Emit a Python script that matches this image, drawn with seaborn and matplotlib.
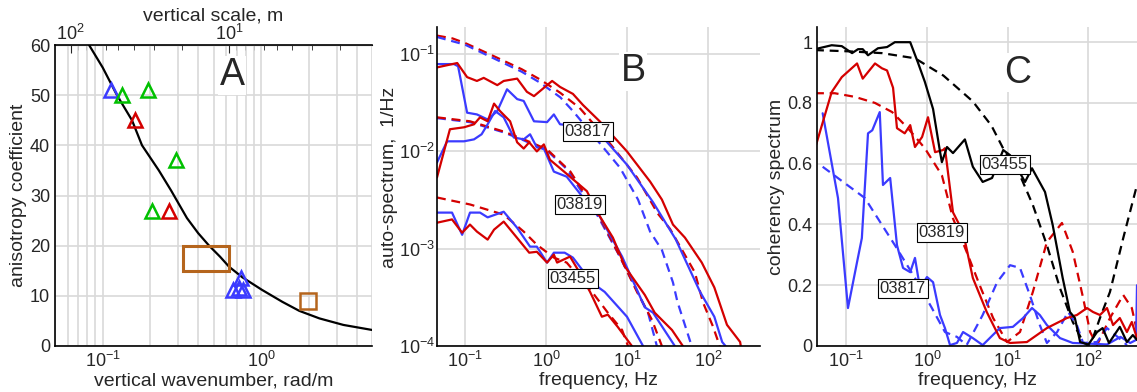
import numpy as np
import matplotlib
matplotlib.use("Agg")
import matplotlib.pyplot as plt
from matplotlib.patches import Rectangle
from matplotlib.ticker import (LogLocator, MultipleLocator, NullFormatter, FuncFormatter,
                               FixedLocator)
import seaborn as sns

##############################################################
# Panel A data: anisotropy coefficient vs vertical wavenumber
##############################################################
curve_k = [0.082, 0.1, 0.123, 0.153, 0.177, 0.226, 0.27, 0.34, 0.40, 0.469, 0.55, 0.627, 0.76, 1.01, 1.36, 1.74, 2.33, 3.3, 5.0]
curve_a = [60, 55.5, 50, 45, 40, 35, 31, 25.5, 22.5, 20, 17.8, 15.8, 13.7, 11.2, 8.8, 7.0, 5.5, 4.2, 3.2]
blue_k = [0.112, 0.66, 0.72, 0.77, 0.75]
blue_a = [51, 11.2, 11.5, 11.2, 13.5]
green_k = [0.132, 0.193, 0.29, 0.204]
green_a = [50, 51, 37, 27]
red_k = [0.159, 0.262]
red_a = [45, 27]
square_k = [1.96]
square_a = [9]
rect_k = [0.32, 0.63]
rect_a = [15, 20]
scale_major = [10, 100]
scale_minor = [2, 3, 4, 5, 6, 7, 8, 9, 20, 30, 40, 50, 60, 70, 80, 90]

##############################################################
# Panel B data: auto-spectra (f in Hz, S in 1/Hz)
##############################################################
f_817_red = [0.045, 0.08, 0.106, 0.14, 0.17, 0.25, 0.30, 0.44, 0.58, 0.71, 1.19, 1.49, 2.15, 2.86, 4.6, 10, 19.3, 27, 37, 52, 84, 120, 172, 250, 260]
s_817_red = [0.073, 0.081, 0.058, 0.053, 0.057, 0.048, 0.053, 0.056, 0.041, 0.037, 0.053, 0.046, 0.039, 0.030, 0.0204, 0.010, 0.0049, 0.0032, 0.00177, 0.0013, 0.00072, 0.0004, 0.000165, 0.00011, 0.00009]
f_817_blue = [0.045, 0.073, 0.082, 0.106, 0.14, 0.19, 0.25, 0.33, 0.44, 0.53, 0.71, 1.03, 1.25, 1.49, 2.0, 3.0, 5.06, 10, 21, 40, 80, 120, 150, 165]
s_817_blue = [0.079, 0.079, 0.075, 0.025, 0.024, 0.0213, 0.026, 0.0435, 0.0345, 0.033, 0.0204, 0.020, 0.024, 0.019, 0.0185, 0.0175, 0.0139, 0.0073, 0.0030, 0.00125, 0.00036, 0.0002, 0.00011, 0.0001]
f_817_red_mod = [0.045, 0.07, 0.1, 0.2, 0.5, 0.84, 1.5, 2.6, 5, 13.3, 24, 34, 48, 69, 87, 115, 140]
s_817_red_mod = [0.155, 0.145, 0.13, 0.1, 0.07, 0.055, 0.04, 0.028, 0.015, 0.0054, 0.0023, 0.0016, 0.00097, 0.00057, 0.00028, 0.00016, 0.0001]
f_817_blue_mod = [0.045, 0.1, 0.2, 0.5, 0.84, 1.5, 2.15, 4, 8.2, 13.7, 19.3, 27, 37, 42, 63]
s_817_blue_mod = [0.15, 0.125, 0.095, 0.066, 0.051, 0.036, 0.026, 0.014, 0.0068, 0.0032, 0.0015, 0.00097, 0.00045, 0.000285, 0.0001]

f_819_red = [0.045, 0.065, 0.097, 0.129, 0.153, 0.19, 0.228, 0.27, 0.36, 0.44, 0.53, 0.62, 0.77, 0.94, 1.12, 1.67, 3.2, 4.4, 6.7, 9.5, 16.6, 22, 36, 49]
s_819_red = [0.0054, 0.0169, 0.0177, 0.019, 0.0224, 0.0204, 0.031, 0.026, 0.0204, 0.0124, 0.0107, 0.0124, 0.010, 0.0118, 0.0082, 0.0062, 0.0039, 0.0023, 0.0013, 0.00065, 0.000335, 0.00022, 0.000146, 0.0001]
f_819_blue = [0.045, 0.06, 0.097, 0.129, 0.16, 0.19, 0.235, 0.30, 0.40, 0.53, 0.635, 0.77, 0.94, 1.25, 1.8, 3.0, 4.4, 8.7, 16.6, 21, 39]
s_819_blue = [0.0077, 0.0127, 0.0127, 0.0133, 0.015, 0.019, 0.026, 0.0224, 0.0139, 0.0133, 0.015, 0.011, 0.0107, 0.0062, 0.0055, 0.0032, 0.0023, 0.00083, 0.00025, 0.00022, 0.0001]
f_819_red_mod = [0.045, 0.115, 0.30, 0.53, 1.03, 2.0, 4.6, 8.5, 13.3, 20.4, 27]
s_819_red_mod = [0.0224, 0.0204, 0.016, 0.0133, 0.0105, 0.0062, 0.0021, 0.00078, 0.00036, 0.000185, 0.0001]
f_819_blue_mod = [0.045, 0.115, 0.30, 0.53, 1.03, 1.8, 4.4, 7.7, 18.2, 23.4]
s_819_blue_mod = [0.022, 0.020, 0.0157, 0.013, 0.0102, 0.0066, 0.00214, 0.00091, 0.00022, 0.0001]

f_455_red = [0.045, 0.069, 0.092, 0.115, 0.14, 0.19, 0.228, 0.30, 0.44, 0.62, 0.77, 1.03, 1.25, 1.37, 1.98, 2.5, 3.5, 4.9, 5.8, 7.7, 11.5]
s_455_red = [0.00185, 0.002, 0.00146, 0.00177, 0.0015, 0.00124, 0.00157, 0.0019, 0.00129, 0.00091, 0.00093, 0.00072, 0.00087, 0.00072, 0.00083, 0.0006, 0.00036, 0.0002, 0.00021, 0.000157, 0.0001]
f_455_blue = [0.045, 0.069, 0.092, 0.115, 0.153, 0.19, 0.30, 0.44, 0.635, 0.77, 1.03, 1.25, 1.7, 2.15, 3.7, 5.3, 10, 15.8]
s_455_blue = [0.00235, 0.00235, 0.00139, 0.00235, 0.00235, 0.0021, 0.0024, 0.00164, 0.00105, 0.00105, 0.00072, 0.00091, 0.00091, 0.00081, 0.000447, 0.00036, 0.0002, 0.0001]
f_455_red_mod = [0.045, 0.115, 0.30, 0.53, 0.77, 1.25, 1.8, 3.8, 5.8, 8.7, 10.3]
s_455_red_mod = [0.00336, 0.00285, 0.00224, 0.0015, 0.0011, 0.00081, 0.00072, 0.00035, 0.00022, 0.000146, 0.0001]

##############################################################
# Panel C data: coherency spectra
##############################################################
f_455_coh = [0.041, 0.066, 0.088, 0.118, 0.14, 0.16, 0.186, 0.247, 0.32, 0.40, 0.62, 0.77, 0.94, 1.19, 1.45, 1.53, 1.77, 2.1, 2.95, 3.7, 4.9, 6.4, 8.8, 10.7, 16.4, 20, 29, 36, 48, 59, 68, 79, 100, 128, 150, 180, 245, 300, 355, 400]
c_455_coh = [0.977, 0.99, 0.987, 0.964, 0.977, 0.977, 0.957, 0.98, 0.984, 1.0, 1.0, 0.934, 0.87, 0.78, 0.64, 0.605, 0.655, 0.635, 0.68, 0.59, 0.54, 0.553, 0.645, 0.628, 0.54, 0.585, 0.507, 0.40, 0.224, 0.112, 0.092, 0.013, 0.005, 0.046, 0.059, 0.01, 0.063, 0.013, 0.036, 0.02]
f_455_coh_mod = [0.041, 0.105, 0.277, 0.71, 1.6, 3.7, 6.3, 8.8, 14.2, 20.5, 30.6, 44.5, 64, 86, 100, 115, 139, 185, 270, 400]
c_455_coh_mod = [0.974, 0.97, 0.964, 0.947, 0.89, 0.805, 0.725, 0.65, 0.562, 0.464, 0.332, 0.19, 0.079, 0.013, 0.0, 0.03, 0.092, 0.178, 0.355, 0.53]
f_819_coh = [0.041, 0.066, 0.088, 0.136, 0.16, 0.227, 0.277, 0.32, 0.38, 0.425, 0.53, 0.62, 0.71, 0.87, 1.03, 1.26, 1.58, 1.67, 2.1, 2.8, 3.7, 5.5, 8.0, 10.7, 17.3, 30.6, 54, 72, 96, 114, 139, 170, 202, 245, 300, 345, 400]
c_819_coh = [0.65, 0.836, 0.885, 0.93, 0.88, 0.93, 0.914, 0.907, 0.85, 0.717, 0.70, 0.727, 0.655, 0.688, 0.753, 0.638, 0.645, 0.651, 0.44, 0.375, 0.224, 0.112, 0.026, 0.01, 0.013, 0.059, 0.092, 0.102, 0.125, 0.112, 0.102, 0.125, 0.069, 0.092, 0.046, 0.079, 0.026]
f_819_coh_mod = [0.041, 0.072, 0.128, 0.227, 0.37, 0.58, 0.94, 1.53, 2.1, 3.1, 4.5, 6.6, 9.8, 14.2, 20.5, 30.6, 47, 64, 86, 105, 128, 185, 270, 345, 410]
c_819_coh_mod = [0.832, 0.832, 0.82, 0.8, 0.77, 0.717, 0.651, 0.562, 0.42, 0.31, 0.2, 0.092, 0.013, 0.046, 0.178, 0.342, 0.405, 0.31, 0.158, 0.046, 0.003, 0.092, 0.168, 0.125, 0.036]
f_817_coh = [0.051, 0.079, 0.105, 0.136, 0.156, 0.186, 0.21, 0.26, 0.285, 0.35, 0.425, 0.505, 0.62, 0.71, 0.82, 1.0, 1.19, 1.45, 1.67, 1.93, 2.35, 2.8, 3.7, 4.9, 8.0, 11.6, 15.5, 20, 25, 30.6, 44.5, 64, 100, 170, 250, 330, 390, 400]
c_817_coh = [0.766, 0.487, 0.125, 0.276, 0.355, 0.70, 0.71, 0.77, 0.53, 0.553, 0.332, 0.257, 0.243, 0.29, 0.19, 0.227, 0.21, 0.102, 0.059, 0.003, 0.01, 0.046, 0.026, 0.003, 0.059, 0.063, 0.092, 0.125, 0.102, 0.069, 0.026, 0.01, 0.008, 0.005, 0.03, 0.01, 0.02, 0.2]
f_817_coh_mod = [0.051, 0.17, 0.40, 0.71, 1.15, 1.67, 2.35, 3.1, 4.9, 7.4, 10.7, 14.2, 18.8, 25, 30.6, 41, 56, 72, 86, 128, 170, 230, 300]
c_817_coh_mod = [0.59, 0.487, 0.332, 0.224, 0.125, 0.046, 0.03, 0.003, 0.102, 0.21, 0.266, 0.257, 0.168, 0.069, 0.01, 0.046, 0.112, 0.069, 0.01, 0.013, 0.059, 0.03, 0.003]

##############################################################
# Estilo
##############################################################
sns.set_style("white")
plt.rcParams['font.family'] = ['Liberation Sans', 'DejaVu Sans']
plt.rcParams['mathtext.fontset'] = 'custom'
plt.rcParams['mathtext.rm'] = 'Liberation Sans'
plt.rcParams['mathtext.it'] = 'Liberation Sans:italic'
plt.rcParams['mathtext.bf'] = 'Liberation Sans:bold'

RED = '#d40000'
BLUE = '#3b3bff'
GREEN = '#00c000'
BROWN = '#b5651d'
GRID = '#d9d9d9'
LW = 1.6
DASH = (0, (4, 2.6))

def draw(ax, x, y, color, dashed=False):
    sns.lineplot(x=x, y=y, ax=ax, color=color, lw=LW, sort=False, estimator=None,
                 linestyle=DASH if dashed else '-')

def markers(ax, x, y, color, m='^', size=10):
    sns.lineplot(x=x, y=y, ax=ax, sort=False, estimator=None, linestyle='none',
                 marker=m, markersize=size, markerfacecolor='none',
                 markeredgecolor=color, markeredgewidth=1.8, color=color)

def box(ax, x, y, txt):
    ax.text(x, y, txt, fontsize=12, ha='center', va='center', zorder=10,
            bbox=dict(fc='white', ec='black', lw=0.8, pad=1.5))

def letter(ax, x, y, txt):
    ax.text(x, y, txt, fontsize=27, ha='center', va='center', zorder=9,
            bbox=dict(fc='white', ec='none', pad=1))

def style(ax):
    ax.tick_params(which='both', direction='in', labelsize=13)
    ax.tick_params(which='major', length=6, width=1)
    ax.tick_params(which='minor', length=3.5, width=0.8)
    ax.set_axisbelow(True)
    for s in ['left', 'bottom']:
        ax.spines[s].set_color('black')
        ax.spines[s].set_linewidth(1.2)
    ax.spines['right'].set_visible(False)

fig = plt.figure(figsize=(11.37, 3.92), dpi=100)
axA = fig.add_axes([55/1137, 46/392, 317/1137, 301/392])
axB = fig.add_axes([437/1137, 46/392, 323/1137, 319/392])
axC = fig.add_axes([817/1137, 46/392, 320/1137, 319/392])

##############################################################
# Panel A
##############################################################
axA.set_xscale('log')
draw(axA, curve_k, curve_a, 'black')
markers(axA, blue_k, blue_a, BLUE)
markers(axA, green_k, green_a, GREEN)
markers(axA, red_k, red_a, RED)
markers(axA, square_k, square_a, BROWN, m='s', size=11)
axA.add_patch(Rectangle((rect_k[0], rect_a[0]), rect_k[1] - rect_k[0], rect_a[1] - rect_a[0],
                        fill=False, ec=BROWN, lw=2.2, zorder=3))
axA.set_xlim(0.05, 5)
axA.set_ylim(0, 60)
axA.yaxis.set_major_locator(MultipleLocator(10))
axA.yaxis.set_minor_locator(MultipleLocator(2))
axA.xaxis.set_minor_locator(LogLocator(subs=np.arange(2, 10)))
axA.xaxis.set_minor_formatter(NullFormatter())
axA.grid(True, which='major', color=GRID, lw=1.2)
axA.grid(True, which='minor', axis='x', color=GRID, lw=1.2)
style(axA)
axA.spines['top'].set_color('black')
axA.spines['top'].set_linewidth(1.2)
axA.set_xlabel('vertical wavenumber, rad/m', fontsize=14, labelpad=1)
axA.set_ylabel('anisotropy coefficient', fontsize=14)
axA.yaxis.set_label_coords(-0.088, 0.5)
letter(axA, 0.656, 54, 'A')

def k2l(k):
    k = np.asarray(k, dtype=float)
    with np.errstate(divide='ignore'):
        return 2 * np.pi / np.where(k == 0, 1e-12, k)

sec = axA.secondary_xaxis('top', functions=(k2l, k2l))
sec.xaxis.set_major_locator(FixedLocator(scale_major))
sec.xaxis.set_minor_locator(FixedLocator(scale_minor))
sec.xaxis.set_minor_formatter(NullFormatter())
sec.tick_params(which='both', direction='in', labelsize=13, pad=1)
sec.tick_params(which='major', length=6)
sec.tick_params(which='minor', length=3.5)
sec.set_xlabel('vertical scale, m', fontsize=14, labelpad=2)

##############################################################
# Panel B
##############################################################
axB.set_xscale('log')
axB.set_yscale('log')
draw(axB, f_817_red_mod, s_817_red_mod, RED, True)
draw(axB, f_817_blue_mod, s_817_blue_mod, BLUE, True)
draw(axB, f_817_blue, s_817_blue, BLUE)
draw(axB, f_817_red, s_817_red, RED)
draw(axB, f_819_blue_mod, s_819_blue_mod, BLUE, True)
draw(axB, f_819_red_mod, s_819_red_mod, RED, True)
draw(axB, f_819_blue, s_819_blue, BLUE)
draw(axB, f_819_red, s_819_red, RED)
draw(axB, f_455_red_mod, s_455_red_mod, RED, True)
draw(axB, f_455_blue, s_455_blue, BLUE)
draw(axB, f_455_red, s_455_red, RED)
axB.set_xlim(0.045, 440)
axB.set_ylim(1e-4, 0.19)
axB.xaxis.set_minor_locator(LogLocator(subs=np.arange(2, 10), numticks=20))
axB.yaxis.set_minor_locator(LogLocator(subs=np.arange(2, 10), numticks=20))
axB.xaxis.set_minor_formatter(NullFormatter())
axB.yaxis.set_minor_formatter(NullFormatter())
axB.grid(True, which='major', color=GRID, lw=1.2)
style(axB)
axB.tick_params(axis='y', which='both', pad=1.5)
axB.spines['top'].set_visible(False)
axB.set_xlabel('frequency, Hz', fontsize=14, labelpad=1)
axB.set_ylabel('auto-spectrum,  1/Hz', fontsize=14)
axB.yaxis.set_label_coords(-0.12, 0.53)
box(axB, 3.3, 0.016, '03817')
box(axB, 2.63, 0.00285, '03819')
box(axB, 2.15, 0.00049, '03455')
letter(axB, 11.9, 0.067, 'B')

##############################################################
# Panel C
##############################################################
axC.set_xscale('log')
draw(axC, f_455_coh_mod, c_455_coh_mod, 'black', True)
draw(axC, f_819_coh_mod, c_819_coh_mod, RED, True)
draw(axC, f_817_coh_mod, c_817_coh_mod, BLUE, True)
draw(axC, f_817_coh, c_817_coh, BLUE)
draw(axC, f_819_coh, c_819_coh, RED)
draw(axC, f_455_coh, c_455_coh, 'black')
axC.set_xlim(0.0434, 400)
axC.set_ylim(0, 1.05)
axC.yaxis.set_major_locator(MultipleLocator(0.2))
axC.yaxis.set_minor_locator(MultipleLocator(0.05))
axC.yaxis.set_major_formatter(FuncFormatter(lambda v, p: f'{v:g}'))
axC.xaxis.set_minor_locator(LogLocator(subs=np.arange(2, 10), numticks=20))
axC.xaxis.set_minor_formatter(NullFormatter())
axC.grid(True, which='major', color=GRID, lw=1.2)
style(axC)
axC.spines['top'].set_visible(False)
axC.set_xlabel('frequency, Hz', fontsize=14, labelpad=1)
axC.set_ylabel('coherency spectrum', fontsize=14)
axC.yaxis.set_label_coords(-0.1, 0.5)
box(axC, 9.25, 0.599, '03455')
box(axC, 1.53, 0.372, '03819')
box(axC, 0.50, 0.19, '03817')
letter(axC, 13.1, 0.90, 'C')

fig.savefig('out.png', dpi=100)
